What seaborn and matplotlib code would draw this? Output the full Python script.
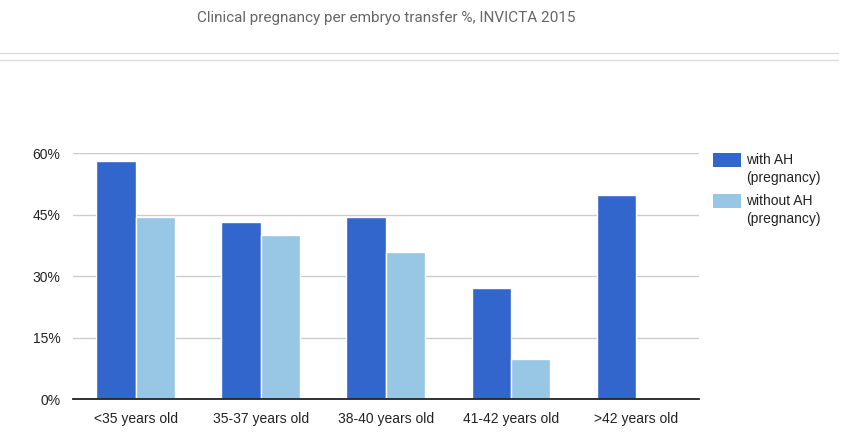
import matplotlib
matplotlib.use("Agg")
import matplotlib.pyplot as plt
import seaborn as sns
import pandas as pd
from matplotlib.lines import Line2D
from matplotlib.patches import Rectangle
from matplotlib.ticker import FixedLocator

categories = ["<35 years old", "35-37 years old", "38-40 years old", "41-42 years old", ">42 years old"]
with_ah = [58.1, 43.2, 44.5, 27.2, 49.8]
without_ah = [44.5, 40.0, 35.9, 9.8, 0.0]
series_names = ["with AH\n(pregnancy)", "without AH\n(pregnancy)"]
y_ticks = [0, 15, 30, 45, 60]
title = "Clinical pregnancy per embryo transfer %, INVICTA 2015"

df = pd.DataFrame({
    "category": categories * 2,
    "value": with_ah + without_ah,
    "series": [series_names[0]] * len(categories) + [series_names[1]] * len(categories),
})

sns.set_theme(style="white")
plt.rcParams["font.family"] = ["Liberation Sans", "DejaVu Sans"]

W, H = 846, 440
fig = plt.figure(figsize=(W / 100, H / 100), dpi=100)
ax = fig.add_axes([73 / W, 1 - 399.3 / H, (698.7 - 73) / W, (399.3 - 153.3) / H])

palette = {series_names[0]: "#3366cc", series_names[1]: "#97c7e4"}
sns.barplot(data=df, x="category", y="value", hue="series", order=categories,
            hue_order=series_names, palette=palette, width=0.63, ax=ax,
            edgecolor="white", linewidth=1.0, saturation=1, legend=False)

ax.set_ylim(0, 60)
ax.set_xlim(-0.5, len(categories) - 0.5)
ax.yaxis.set_major_locator(FixedLocator(y_ticks))
ax.set_yticklabels([f"{t}%" for t in y_ticks])
ax.grid(axis="y", color="#cccccc", linewidth=1)
ax.set_axisbelow(True)
for s in ["top", "right", "left"]:
    ax.spines[s].set_visible(False)
ax.spines["bottom"].set_color("#222222")
ax.spines["bottom"].set_linewidth(1.3)
ax.spines["bottom"].set_zorder(5)
ax.set_xlabel("")
ax.set_ylabel("")
ax.tick_params(axis="both", length=0, labelsize=10, labelcolor="#222222")
ax.tick_params(axis="y", pad=9)
ax.tick_params(axis="x", pad=9)

# legend: swatch aligned with the first line of each label
legend_tops = [153, 194]
for name, top in zip(series_names, legend_tops):
    fig.add_artist(Rectangle((713 / W, 1 - (top + 14) / H), 28 / W, 14 / H,
                             transform=fig.transFigure, facecolor=palette[name],
                             edgecolor="none"))
    first, second = name.split("\n")
    fig.text(746 / W, 1 - (top + 7) / H, first, ha="left", va="center",
             fontsize=10, color="#222222")
    fig.text(746 / W, 1 - (top + 25) / H, second, ha="left", va="center",
             fontsize=10, color="#222222")

fig.text(386 / W, 1 - 18 / H, title, ha="center", va="center", fontsize=11,
         color="#666666", family=["Roboto", "DejaVu Sans"], fontstretch="condensed")

fig.add_artist(Line2D([0, 838 / W], [1 - 53 / H, 1 - 53 / H], color="#dddddd", linewidth=1))
fig.add_artist(Line2D([0, 838 / W], [1 - 60 / H, 1 - 60 / H], color="#dddddd", linewidth=1))

fig.savefig("out.png", dpi=100)
